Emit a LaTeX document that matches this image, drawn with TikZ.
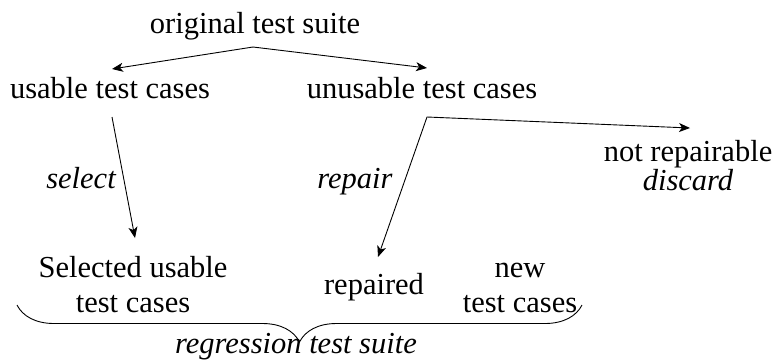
\documentclass[tikz,border=0pt]{standalone}
\usepackage{fontspec}
\setmainfont{Liberation Serif}
\usetikzlibrary{arrows.meta,decorations.pathreplacing}

\begin{document}
\begin{tikzpicture}[x=1pt,y=-1pt,
  txt/.style={anchor=base,inner sep=0pt,align=center,font=\fontsize{30.5}{35}\selectfont},
  tip/.tip={Stealth[length=11pt,width=9pt,inset=3pt]},
  arr/.style={line width=0.9pt,-tip}]
\useasboundingbox (0,0) rectangle (776,360);
\node[txt] (orig) at (255,33) {original test suite};
\node[txt] (usable) at (110,98) {usable test cases};
\node[txt] (unusable) at (422,98) {unusable test cases};
\node[txt,font=\fontsize{30.5}{35}\itshape] (select) at (81,188) {select};
\node[txt,font=\fontsize{30.5}{35}\itshape] (repair) at (355,188) {repair};
\node[txt,font=\fontsize{30.5}{23}\selectfont] (notrep) at (688,190) {not repairable\\\textit{discard}};
\node[txt] (selected) at (133,312) {Selected usable\\test cases};
\node[txt] (repaired) at (374,294) {repaired};
\node[txt] (new) at (520,312) {new\\test cases};
\node[txt,font=\fontsize{30.5}{35}\itshape] (suite) at (296,353) {regression test suite};
% arrow end points
\coordinate (top) at (253,47);
\coordinate (u) at (112,69);
\coordinate (un) at (427,68);
\coordinate (s0) at (112,117);
\coordinate (s1) at (135,238);
\coordinate (corner) at (427,117);
\coordinate (r1) at (378,257);
\coordinate (d1) at (690,128);
\draw[arr] (top) -- (u);
\draw[arr] (top) -- (un);
\draw[arr] (s0) -- (s1);
\draw[arr,tip-tip] (r1) -- (corner) -- (d1);
% brace under the suite
\coordinate (bl) at (17,305);
\coordinate (br) at (582,305);
\draw[line width=0.9pt,decorate,decoration={brace,amplitude=37pt,aspect=0.5}] (br) -- (bl);
\end{tikzpicture}
\end{document}
